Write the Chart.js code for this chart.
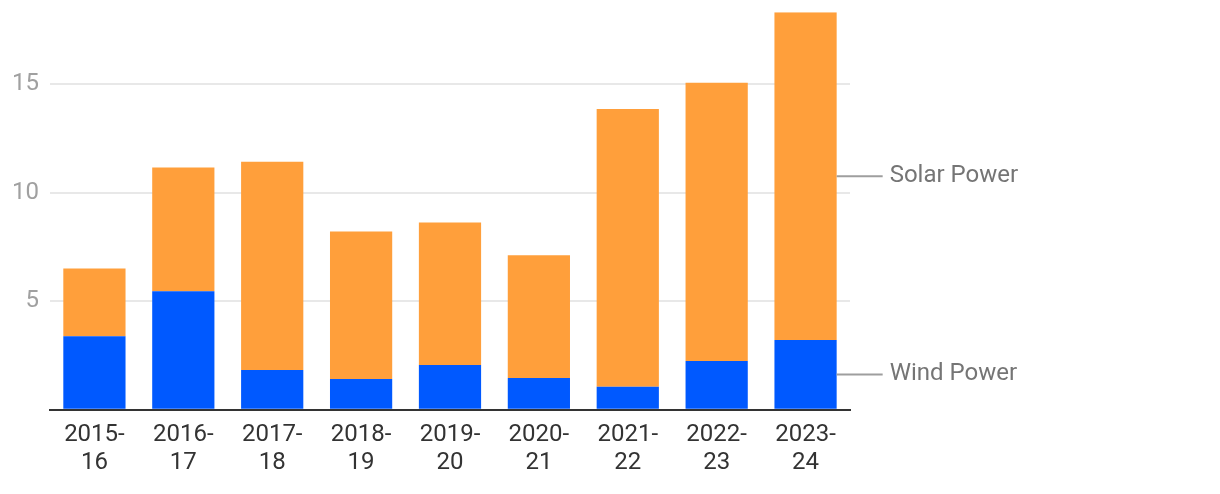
<!DOCTYPE html>
<html>
<head>
<meta charset="utf-8">
<script src="https://cdn.jsdelivr.net/npm/chart.js@4.4.1/dist/chart.umd.min.js"></script>
<style>
  html,body{margin:0;padding:0;background:#fff;}
  #wrap{width:1220px;height:494px;position:relative;}
</style>
</head>
<body>
<div id="wrap"><canvas id="chart"></canvas></div>
<script>
const categories = [['2015-','16'],['2016-','17'],['2017-','18'],['2018-','19'],['2019-','20'],['2020-','21'],['2021-','22'],['2022-','23'],['2023-','24']];
const windPower  = [3.39, 5.46, 1.83, 1.42, 2.06, 1.47, 1.06, 2.25, 3.21];
const solarPower = [3.12, 5.69, 9.59, 6.79, 6.56, 5.64, 12.79, 12.80, 15.09];
const yTicks = [5, 10, 15];
const yMax = 18.3;

const seriesLabels = {
  id: 'seriesLabels',
  afterDatasetsDraw(chart) {
    const ctx = chart.ctx;
    ctx.save();
    chart.data.datasets.forEach((ds, i) => {
      const meta = chart.getDatasetMeta(i);
      const bar = meta.data[meta.data.length - 1];
      const p = bar.getProps(['x', 'y', 'base', 'width'], true);
      const yMid = (p.y + p.base) / 2;
      const x0 = p.x + p.width / 2;
      ctx.strokeStyle = '#9e9e9e';
      ctx.lineWidth = 2;
      ctx.beginPath(); ctx.moveTo(x0, yMid); ctx.lineTo(x0 + 46, yMid); ctx.stroke();
      ctx.fillStyle = '#757575';
      ctx.font = '24px Roboto';
      ctx.textBaseline = 'middle';
      ctx.textAlign = 'left';
      ctx.fillText(ds.label, x0 + 53, yMid);
    });
    ctx.restore();
  }
};

new Chart(document.getElementById('chart'), {
  type: 'bar',
  data: {
    labels: categories,
    datasets: [
      { label: 'Wind Power', data: windPower, backgroundColor: '#0059ff', barPercentage: 0.7, categoryPercentage: 1 },
      { label: 'Solar Power', data: solarPower, backgroundColor: '#ff9f3b', barPercentage: 0.7, categoryPercentage: 1 }
    ]
  },
  options: {
    responsive: true, maintainAspectRatio: false, animation: false,
    layout: { padding: { left: 1, right: 370, top: 8, bottom: 14 } },
    plugins: { legend: { display: false }, tooltip: { enabled: false } },
    scales: {
      x: {
        stacked: true,
        grid: { display: false },
        border: { display: true, color: '#333', width: 2 },
        ticks: { color: '#333', font: { family: 'Roboto', size: 24, lineHeight: 1.17 }, padding: 3, maxRotation: 0 }
      },
      y: {
        stacked: true, min: 0, max: yMax,
        border: { display: false },
        grid: { color: c => c.tick.value === 0 ? 'rgba(0,0,0,0)' : '#e8e8e8', lineWidth: 2, drawTicks: false },
        afterBuildTicks: axis => { axis.ticks = [0, ...yTicks].map(v => ({ value: v })); },
        ticks: { color: '#a0a0a0', font: { family: 'Roboto', size: 24, lineHeight: 0.1 }, padding: 11, callback: v => v === 0 ? '' : v }
      }
    }
  },
  plugins: [seriesLabels]
});
</script>
</body>
</html>
